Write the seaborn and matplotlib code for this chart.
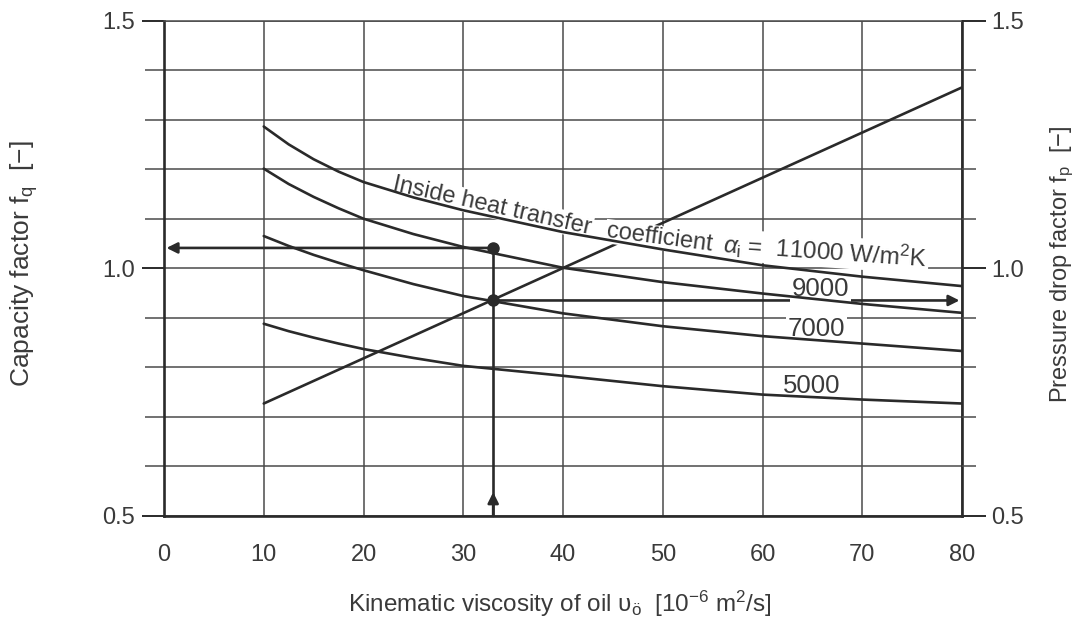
import matplotlib
matplotlib.use("Agg")
import matplotlib.pyplot as plt
import numpy as np
import pandas as pd
import seaborn as sns
from matplotlib.ticker import MultipleLocator

# ---------------- data ----------------
viscosity = [10, 12.5, 15, 17.5, 20, 25, 30, 40, 50, 60, 70, 80]
fq_11000 = [1.286, 1.250, 1.220, 1.195, 1.174, 1.143, 1.117, 1.073, 1.038, 1.006, 0.983, 0.964]
fq_9000 = [1.201, 1.170, 1.144, 1.121, 1.100, 1.069, 1.043, 1.001, 0.972, 0.949, 0.928, 0.910]
fq_7000 = [1.065, 1.045, 1.027, 1.011, 0.996, 0.968, 0.944, 0.909, 0.883, 0.863, 0.848, 0.833]
fq_5000 = [0.888, 0.873, 0.860, 0.848, 0.837, 0.819, 0.803, 0.783, 0.762, 0.745, 0.735, 0.727]
alpha_labels = ["11000", "9000", "7000", "5000"]

pressure_x = [10, 80]
pressure_fp = [0.727, 1.365]

read_visc = 33.0
read_fq = 1.041
read_fp = 0.935

x_ticks = [0, 10, 20, 30, 40, 50, 60, 70, 80]
y_ticks = [0.5, 1.0, 1.5]
y_ticklabels = ["0.5", "1.0", "1.5"]

# ---------------- style ----------------
sns.set_theme(style="white")
plt.rcParams["font.family"] = ["Liberation Sans", "DejaVu Sans"]
plt.rcParams["mathtext.fontset"] = "custom"
plt.rcParams["mathtext.rm"] = "Liberation Sans"
plt.rcParams["mathtext.it"] = "Liberation Sans:italic"
plt.rcParams["mathtext.bf"] = "Liberation Sans:bold"

INK = "#2a2a2a"
GRID = "#4a4a4a"
TXT = "#3a3a3a"

df = pd.DataFrame({
    "viscosity": viscosity * 4,
    "fq": fq_11000 + fq_9000 + fq_7000 + fq_5000,
    "alpha": sum([[a] * len(viscosity) for a in alpha_labels], []),
})

fig = plt.figure(figsize=(10.8, 6.2), dpi=100)
ax = fig.add_axes([164 / 1080, 1 - 516 / 620, (962 - 164) / 1080, (516 - 20.5) / 620])
ax.set_xlim(0, 80)
ax.set_ylim(0.5, 1.5)

# curves
sns.lineplot(data=df, x="viscosity", y="fq", hue="alpha",
             palette={a: INK for a in alpha_labels}, linewidth=1.9,
             legend=False, ax=ax, zorder=4, sort=True)

# pressure drop line
sns.lineplot(x=pressure_x, y=pressure_fp, color=INK, linewidth=1.9, ax=ax, zorder=2)

# reading example
ax.plot([read_visc, read_visc], [0.5, read_fq], color=INK, lw=1.9, zorder=2,
        solid_capstyle="butt")
arrow = dict(arrowstyle="-|>", color=INK, lw=1.9, mutation_scale=16, shrinkA=0, shrinkB=0)
ax.annotate("", xy=(read_visc, 0.548), xytext=(read_visc, 0.5), arrowprops=arrow, zorder=2)
ax.annotate("", xy=(0.25, read_fq), xytext=(read_visc, read_fq), arrowprops=arrow, zorder=2)
ax.annotate("", xy=(79.75, read_fp), xytext=(read_visc, read_fp), arrowprops=arrow, zorder=2)
ax.plot([read_visc, read_visc], [read_fq, read_fp], "o", color=INK, ms=8, zorder=5)

# grid
ax.set_xticks(x_ticks)
ax.set_yticks(y_ticks)
ax.set_yticklabels(y_ticklabels)
ax.yaxis.set_minor_locator(MultipleLocator(0.1))
ax.grid(True, which="both", axis="both", color=GRID, lw=1.1, zorder=0.5)
ax.grid(False, which="minor", axis="x")
ax.set_axisbelow(True)

for s in ["left", "right", "bottom"]:
    ax.spines[s].set_color(INK)
    ax.spines[s].set_linewidth(1.9)
ax.spines["top"].set_color(GRID)
ax.spines["top"].set_linewidth(1.1)

ax.tick_params(axis="x", which="major", direction="out", length=15, width=1.4,
               color=INK, pad=5, labelsize=17, labelcolor=TXT)
ax.tick_params(axis="y", which="major", direction="out", length=16, width=1.4,
               color=INK, pad=5, labelsize=17, labelcolor=TXT)
ax.tick_params(axis="y", which="minor", direction="out", length=14, width=1.1,
               color=GRID)
ax.set_xlabel("")
ax.set_ylabel("")

ax2 = ax.twinx()
ax2.set_ylim(0.5, 1.5)
ax2.set_yticks(y_ticks)
ax2.set_yticklabels(y_ticklabels)
ax2.yaxis.set_minor_locator(MultipleLocator(0.1))
ax2.tick_params(axis="y", which="major", direction="out", length=17, width=1.4,
                color=INK, pad=4, labelsize=17, labelcolor=TXT)
ax2.tick_params(axis="y", which="minor", direction="out", length=10, width=1.1,
                color=GRID)
ax2.grid(False)
for s in ax2.spines.values():
    s.set_visible(False)
ax2.patch.set_visible(False)

# curve labels
box = dict(facecolor="white", edgecolor="none", pad=0.8)
ax.text(22.9, 1.158, "Inside heat transfer", rotation=-12.6, rotation_mode="anchor",
        ha="left", va="baseline", fontsize=17, color=TXT, zorder=3, bbox=box)
ax.text(44.3, 1.063, "coefficient", rotation=-7.5, rotation_mode="anchor",
        ha="left", va="baseline", fontsize=17, color=TXT, zorder=3, bbox=box)
ax.text(56.0, 1.031, r"$\alpha_\mathrm{i}$ =  11000 W/m$^\mathrm{2}$K", rotation=-4,
        rotation_mode="anchor", ha="left", va="baseline", fontsize=17.5, color=TXT,
        zorder=3, bbox=box)
ax.text(65.8, 0.959, "9000", ha="center", va="center", fontsize=18.5, color=TXT,
        zorder=3, bbox=dict(facecolor="white", edgecolor="none", pad=1.5))
ax.text(65.4, 0.878, "7000", ha="center", va="center", fontsize=18.5, color=TXT,
        zorder=3, bbox=dict(facecolor="white", edgecolor="none", pad=1.5))
ax.text(64.9, 0.763, "5000", ha="center", va="center", fontsize=18.5, color=TXT,
        zorder=3)

# axis titles
fig.text(560 / 1080, 1 - 604 / 620,
         r"Kinematic viscosity of oil υ$_\mathrm{ö}$  [10$^{-6}$ m$^\mathrm{2}$/s]",
         ha="center", va="center", fontsize=17.5, color=TXT)
fig.text(24 / 1080, 1 - 264 / 620, r"Capacity factor f$_\mathrm{q}$  [−]",
         rotation=90, ha="center", va="center", fontsize=19, color=TXT)
fig.text(1062 / 1080, 1 - 264 / 620, r"Pressure drop factor f$_\mathrm{p}$  [−]",
         rotation=90, ha="center", va="center", fontsize=17, color=TXT)

fig.savefig("out.png", dpi=100, facecolor="white")
